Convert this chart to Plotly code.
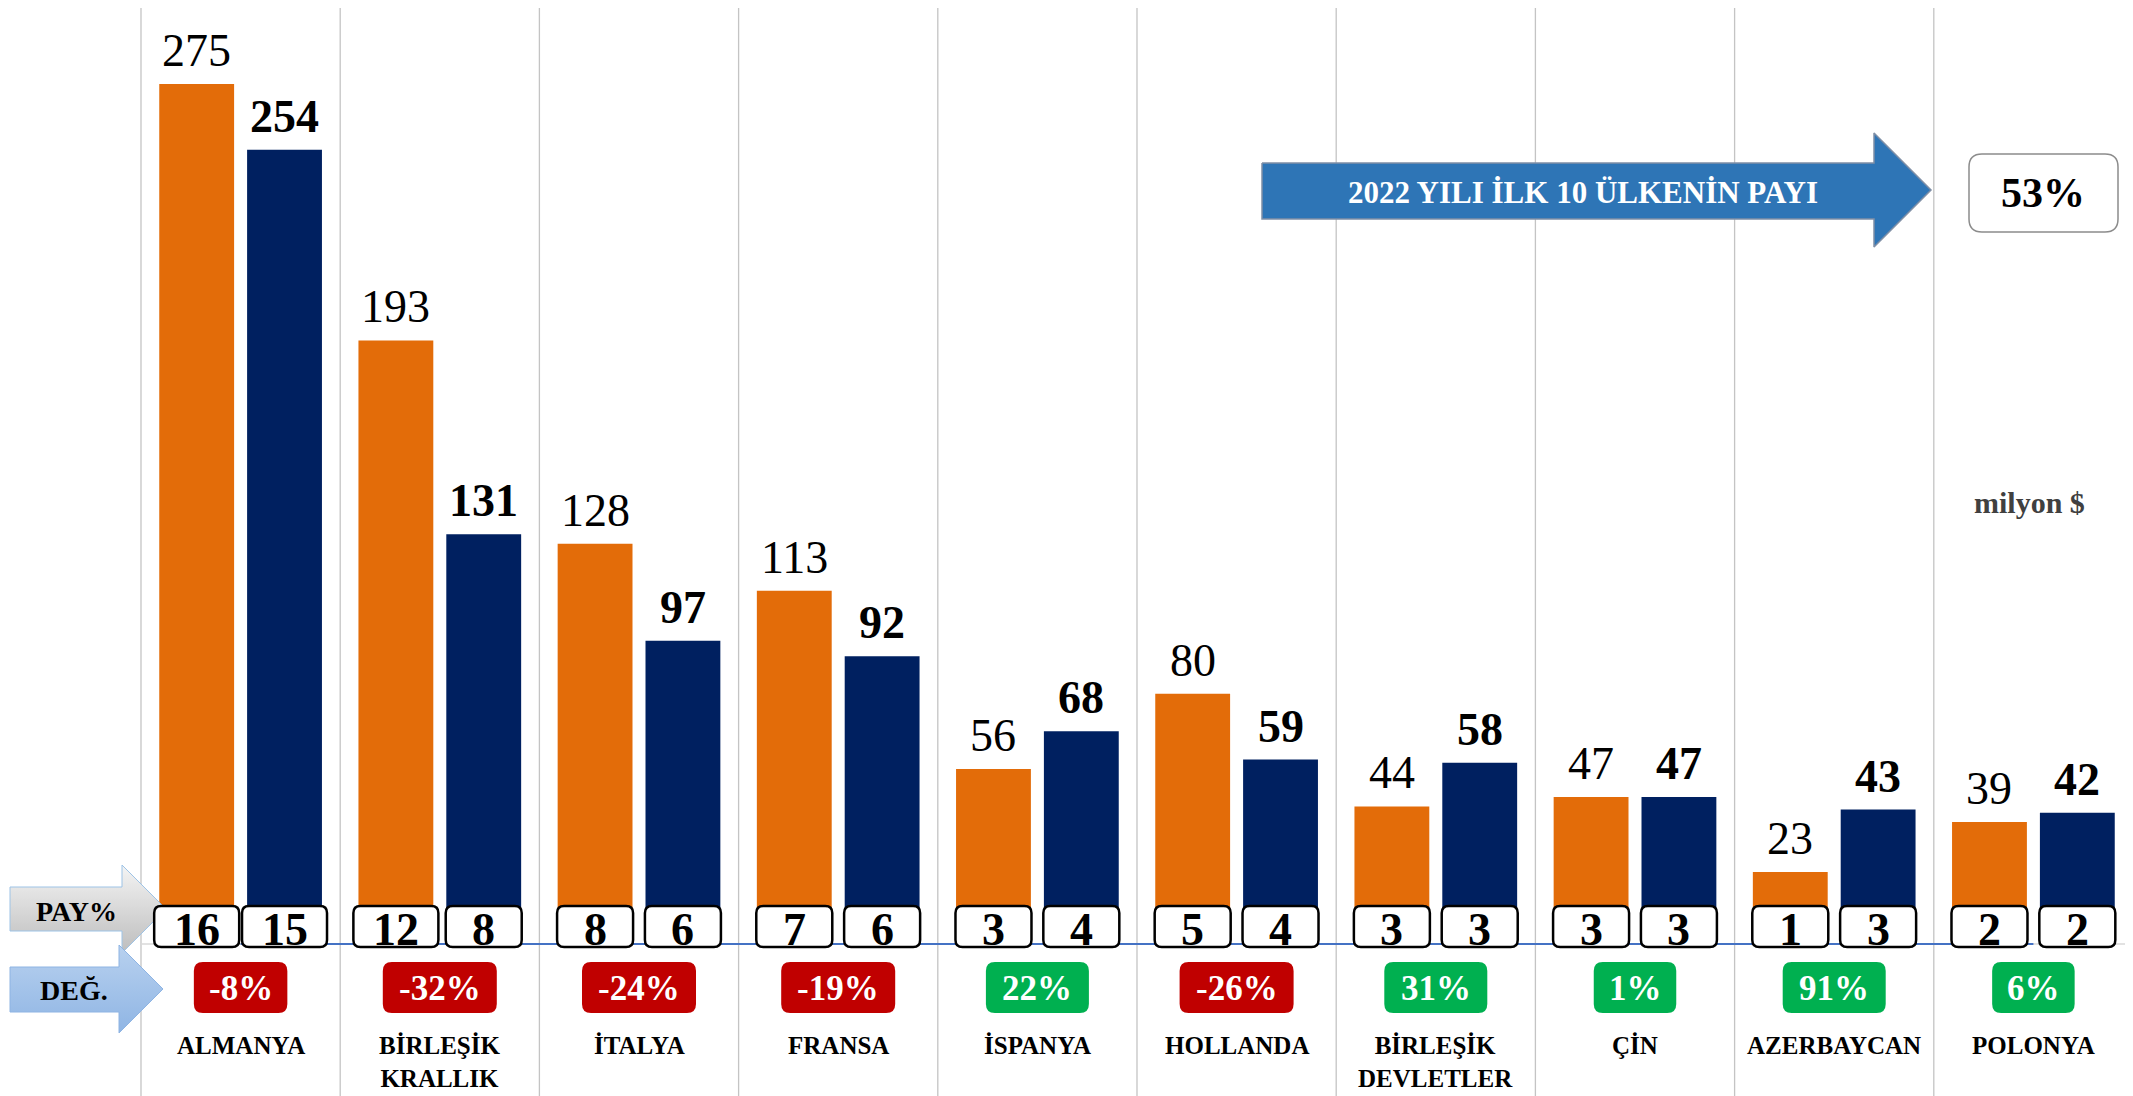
import plotly.graph_objects as go

# --- data -------------------------------------------------------------
countries = ["ALMANYA", "BİRLEŞİK KRALLIK", "İTALYA", "FRANSA", "İSPANYA",
             "HOLLANDA", "BİRLEŞİK DEVLETLER", "ÇİN", "AZERBAYCAN", "POLONYA"]
exp_2021 = [275, 193, 128, 113, 56, 80, 44, 47, 23, 39]      # milyon $
exp_2022 = [254, 131, 97, 92, 68, 59, 58, 47, 43, 42]        # milyon $
share_2021 = [16, 12, 8, 7, 3, 5, 3, 3, 1, 2]                # PAY %
share_2022 = [15, 8, 6, 6, 4, 4, 3, 3, 3, 2]                 # PAY %
change_pct = [-8, -32, -24, -19, 22, -26, 31, 1, 91, 6]      # DEĞ. %
top10_share = 53
top10_label = "2022 YILI İLK 10 ÜLKENİN PAYI"
unit_label = "milyon $"

# --- layout constants (pixels of the final page) ----------------------
PAGE_W, PAGE_H = 2133, 1096
PAD = 8                      # default body margin of the html page
FIG_W, FIG_H = PAGE_W - PAD, PAGE_H - PAD
PLOT_LEFT = 141
N = len(countries)
CAT_W = (PAGE_W - PLOT_LEFT) / N
BASE_PX = 944
PX_PER_UNIT = 3.127
BARGAP, GROUPGAP = 0.118, 0.148
SLOT = CAT_W * (1 - BARGAP) / 2
BAR_OFF = SLOT / 2

FONT = "Liberation Serif"
ORANGE = "#E36C09"
NAVY = "#002060"
RED = "#C00000"
GREEN = "#00B050"


def cat_center(i):
    return PLOT_LEFT + CAT_W * (i + 0.5)


def rrect(x0, y0, x1, y1, r):
    return (f"M{x0 + r},{y0} L{x1 - r},{y0} Q{x1},{y0} {x1},{y0 + r} "
            f"L{x1},{y1 - r} Q{x1},{y1} {x1 - r},{y1} L{x0 + r},{y1} "
            f"Q{x0},{y1} {x0},{y1 - r} L{x0},{y0 + r} Q{x0},{y0} {x0 + r},{y0} Z")


def arrow_pts(x0, xb, tip, b0, b1, h0, h1):
    mid = (h0 + h1) / 2
    xs = [x0, xb, xb, tip, xb, xb, x0, x0]
    ys = [b0, b0, h0, mid, h1, b1, b1, b0]
    return xs, ys


fig = go.Figure()

fig.add_trace(go.Bar(x=countries, y=exp_2021, name="2021",
                     marker=dict(color=ORANGE, line=dict(width=0))))
fig.add_trace(go.Bar(x=countries, y=exp_2022, name="2022",
                     marker=dict(color=NAVY, line=dict(width=0))))

shapes = []
annotations = []

# vertical separators between countries
for i in range(N):
    shapes.append(dict(type="line", xref="x", yref="y2", x0=i - 0.5, x1=i - 0.5,
                       y0=6, y1=PAGE_H, line=dict(color="#C4C4C4", width=1.3),
                       layer="below"))

# axis line + blue line joining category centres
shapes.append(dict(type="line", xref="x", yref="y", x0=-0.5, x1=N - 0.5, y0=0, y1=0,
                   line=dict(color="#D9D9D9", width=1.5), layer="below"))
shapes.append(dict(type="line", xref="x", yref="y", x0=0, x1=N - 1, y0=0, y1=0,
                   line=dict(color="#4472C4", width=2)))

# value labels above bars
for i, c in enumerate(countries):
    annotations.append(dict(x=c, y=exp_2021[i], xref="x", yref="y", text=str(exp_2021[i]),
                            showarrow=False, xshift=-BAR_OFF, yanchor="bottom", yshift=6,
                            font=dict(family=FONT, size=46, color="black")))
    annotations.append(dict(x=c, y=exp_2022[i], xref="x", yref="y",
                            text=f"<b>{exp_2022[i]}</b>",
                            showarrow=False, xshift=BAR_OFF, yanchor="bottom", yshift=6,
                            font=dict(family=FONT, size=46, color="black")))

# PAY% boxes
for i in range(N):
    for val, off in ((share_2021[i], -BAR_OFF), (share_2022[i], BAR_OFF)):
        cx = cat_center(i) + off
        w = 85 if val >= 10 else 76
        shapes.append(dict(type="path", xref="x2", yref="y2",
                           path=rrect(cx - w / 2, 906, cx + w / 2, 947, 7),
                           fillcolor="white", line=dict(color="black", width=2.5)))
        annotations.append(dict(x=cx, y=929, xref="x2", yref="y2", text=f"<b>{val}</b>",
                                showarrow=False, yanchor="middle",
                                font=dict(family=FONT, size=46, color="black")))

# DEĞ. boxes
for i, ch in enumerate(change_pct):
    txt = f"{ch}%"
    digits = len(str(abs(ch)))
    w = 62 + 20.5 * digits + (11 if ch < 0 else 0)
    cx = cat_center(i)
    shapes.append(dict(type="path", xref="x2", yref="y2",
                       path=rrect(cx - w / 2, 962, cx + w / 2, 1013, 9),
                       fillcolor=GREEN if ch > 0 else RED, line=dict(width=0)))
    annotations.append(dict(x=cx, y=988, xref="x2", yref="y2", text=f"<b>{txt}</b>",
                            showarrow=False, yanchor="middle",
                            font=dict(family=FONT, size=35, color="white")))

# country names
for i, c in enumerate(countries):
    annotations.append(dict(x=c, y=1030, xref="x", yref="y2",
                            text=f"<b>{c.replace(' ', '<br>')}</b>",
                            showarrow=False, yanchor="top",
                            font=dict(family=FONT, size=25, color="black")))

# left-side arrows
xs, ys = arrow_pts(10, 122, 166, 887, 931, 865, 953)
fig.add_trace(go.Scatter(x=xs, y=ys, xaxis="x2", yaxis="y2", mode="lines", fill="toself",
                         line=dict(color="#9DC3E6", width=1),
                         fillgradient=dict(type="vertical", start=865, stop=953,
                                           colorscale=[[0, "#F4F4F4"], [1, "#BDBDBD"]]),
                         hoverinfo="skip"))
xs, ys = arrow_pts(10, 119, 163, 967, 1012, 945, 1033)
fig.add_trace(go.Scatter(x=xs, y=ys, xaxis="x2", yaxis="y2", mode="lines", fill="toself",
                         line=dict(color="#8EB4E3", width=1),
                         fillgradient=dict(type="vertical", start=945, stop=1033,
                                           colorscale=[[0, "#B8D1EF"], [1, "#8FB5E4"]]),
                         hoverinfo="skip"))
annotations.append(dict(x=76, y=911, xref="x2", yref="y2", text="<b>PAY%</b>",
                        showarrow=False, font=dict(family=FONT, size=28, color="black")))
annotations.append(dict(x=74, y=990, xref="x2", yref="y2", text="<b>DEĞ.</b>",
                        showarrow=False, font=dict(family=FONT, size=28, color="black")))

# top-10 share arrow + box
xs, ys = arrow_pts(1262, 1874, 1931, 163, 219, 133, 247)
fig.add_trace(go.Scatter(x=xs, y=ys, xaxis="x2", yaxis="y2", mode="lines", fill="toself",
                         fillcolor="#2E75B6", line=dict(color="#7F8FA6", width=1.5),
                         hoverinfo="skip"))
annotations.append(dict(x=1583, y=192, xref="x2", yref="y2", text=f"<b>{top10_label}</b>",
                        showarrow=False, font=dict(family=FONT, size=31, color="white")))
shapes.append(dict(type="path", xref="x2", yref="y2", path=rrect(1969, 154, 2118, 232, 13),
                   fillcolor="white", line=dict(color="#8C8C8C", width=1.5)))
annotations.append(dict(x=2043, y=193, xref="x2", yref="y2", text=f"<b>{top10_share}%</b>",
                        showarrow=False, font=dict(family=FONT, size=42, color="black")))
annotations.append(dict(x=2029, y=502, xref="x2", yref="y2", text=f"<b>{unit_label}</b>",
                        showarrow=False, font=dict(family=FONT, size=30, color="#404040")))

fig.update_layout(
    width=FIG_W, height=FIG_H,
    margin=dict(l=0, r=0, t=0, b=0),
    paper_bgcolor="white", plot_bgcolor="white",
    barmode="group", bargap=BARGAP, bargroupgap=GROUPGAP,
    showlegend=False,
    xaxis=dict(type="category", range=[-0.5 - (PLOT_LEFT - PAD) / CAT_W, N - 0.5],
               visible=False, fixedrange=True),
    yaxis=dict(range=[-(PAGE_H - BASE_PX) / PX_PER_UNIT, (BASE_PX - PAD) / PX_PER_UNIT],
               visible=False, fixedrange=True),
    # pixel frame of the page, used for the decorations
    xaxis2=dict(overlaying="x", range=[PAD, PAGE_W], visible=False, fixedrange=True),
    yaxis2=dict(overlaying="y", range=[PAGE_H, PAD], visible=False, fixedrange=True),
    shapes=shapes,
    annotations=annotations,
)

fig.write_html("out.html")
